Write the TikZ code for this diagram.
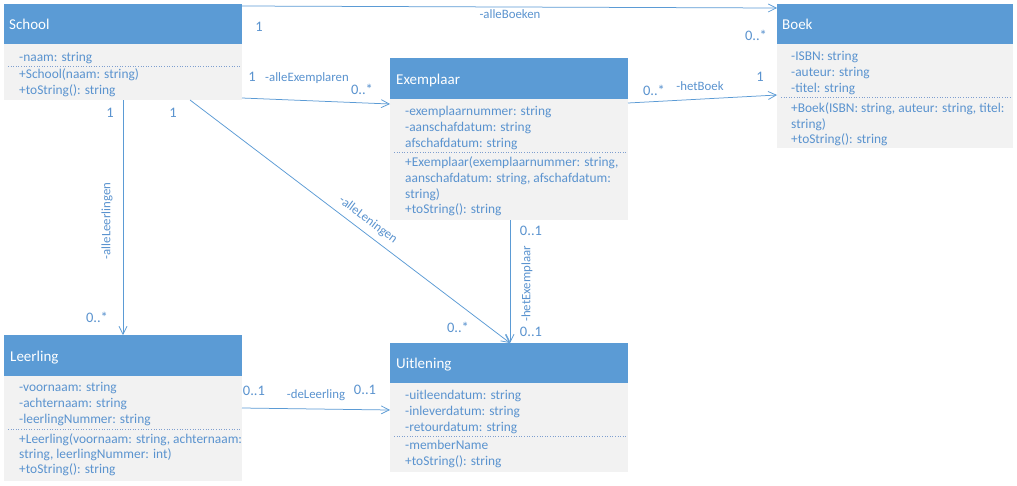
\documentclass[tikz,border=0pt]{standalone}
\usepackage{fontspec}
\setmainfont{Carlito}
\usetikzlibrary{arrows.meta}
\definecolor{hdrblue}{HTML}{5B9BD5}
\definecolor{bodygray}{HTML}{F2F2F2}
\definecolor{txtblue}{HTML}{5A93CF}
\definecolor{lineblue}{HTML}{5B9BD5}
\definecolor{sepcol}{HTML}{7F9FCF}
\begin{document}
\begin{tikzpicture}[x=1pt,y=-1pt,
  hdr/.style={fill=hdrblue,draw=none,inner sep=0pt,outer sep=0pt,anchor=north west},
  bodybox/.style={fill=bodygray,draw=none,inner sep=0pt,outer sep=0pt,anchor=north west},
  hdrtext/.style={anchor=base west,inner sep=0pt,text=white,font=\fontsize{15}{18}\selectfont},
  txt/.style={anchor=base west,inner sep=0pt,text=txtblue,font=\fontsize{13.4}{16}\selectfont},
  lbl/.style={inner sep=0pt,text=txtblue,font=\fontsize{12.8}{15}\selectfont},
  mult/.style={inner sep=0pt,text=txtblue,font=\fontsize{14.5}{17}\selectfont},
  sep/.style={draw=sepcol,dotted,line width=0.6pt},
  conn/.style={draw=lineblue,line width=0.75pt,-{Straight Barb[length=8pt,width=8pt,line width=0.75pt]}}
]
\useasboundingbox[fill=white] (0,0) rectangle (1017,485);

% School
\node[hdr,minimum width=238pt,minimum height=40pt] (schoolh) at (4,4) {};
\node[bodybox,minimum width=238pt,minimum height=56pt] (schoolb) at (4,44) {};
\node[hdrtext] (schoolt) at (9,29) {School};
\node[txt] (s1) at (19,61) {-naam: string};
\node[txt] (s2) at (19,78) {+School(naam: string)};
\node[txt] (s3) at (19,94) {+toString(): string};
\draw[sep] (8,66) -- (240,66);

% Boek
\node[hdr,minimum width=236pt,minimum height=40pt] (boekh) at (777,4) {};
\node[bodybox,minimum width=236pt,minimum height=104pt] (boekb) at (777,44) {};
\node[hdrtext] (boekt) at (782,29) {Boek};
\node[txt] (b1) at (791,60) {-ISBN: string};
\node[txt] (b2) at (791,76) {-auteur: string};
\node[txt] (b3) at (791,92) {-titel: string};
\node[txt] (b4) at (791,112) {+Boek(ISBN: string, auteur: string, titel:};
\node[txt] (b5) at (791,128) {string)};
\node[txt] (b6) at (791,143) {+toString(): string};
\draw[sep] (781,97) -- (1011,97);

% Exemplaar
\node[hdr,minimum width=238pt,minimum height=41pt] (exh) at (390,58) {};
\node[bodybox,minimum width=238pt,minimum height=121pt] (exb) at (390,99) {};
\node[hdrtext] (ext) at (396,84) {Exemplaar};
\node[txt] (e1) at (405,115) {-exemplaarnummer: string};
\node[txt] (e2) at (405,131) {-aanschafdatum: string};
\node[txt] (e3) at (405,147) {afschafdatum: string};
\node[txt] (e4) at (405,166) {+Exemplaar(exemplaarnummer: string,};
\node[txt] (e5) at (405,182) {aanschafdatum: string, afschafdatum:};
\node[txt] (e6) at (405,198) {string)};
\node[txt] (e7) at (405,213) {+toString(): string};
\draw[sep] (394,152) -- (626,152);

% Leerling
\node[hdr,minimum width=238pt,minimum height=41pt] (leerh) at (4,335) {};
\node[bodybox,minimum width=238pt,minimum height=105pt] (leerb) at (4,376) {};
\node[hdrtext] (leert) at (10,361) {Leerling};
\node[txt] (l1) at (19,391) {-voornaam: string};
\node[txt] (l2) at (19,407) {-achternaam: string};
\node[txt] (l3) at (19,423) {-leerlingNummer: string};
\node[txt] (l4) at (19,443) {+Leerling(voornaam: string, achternaam:};
\node[txt] (l5) at (19,458) {string, leerlingNummer: int)};
\node[txt] (l6) at (19,473) {+toString(): string};
\draw[sep] (8,429) -- (240,429);

% Uitlening
\node[hdr,minimum width=238pt,minimum height=40pt] (uith) at (390,343) {};
\node[bodybox,minimum width=238pt,minimum height=89pt] (uitb) at (390,383) {};
\node[hdrtext] (uitt) at (396,368) {Uitlening};
\node[txt] (u1) at (405,399) {-uitleendatum: string};
\node[txt] (u2) at (405,415) {-inleverdatum: string};
\node[txt] (u3) at (405,431) {-retourdatum: string};
\node[txt] (u4) at (405,449) {-memberName};
\node[txt] (u5) at (405,465) {+toString(): string};
\draw[sep] (394,436) -- (626,436);

% Connectors
\draw[conn] ([yshift=-2pt]schoolh.north east) -- ([yshift=-4pt]boekh.north west);
\draw[conn] ([yshift=2pt]schoolb.south east) -- ([yshift=-5pt]exb.north west);
\draw[conn] ([yshift=-4pt]exh.south east) -- ([yshift=-51pt]boekb.north west);
\draw[conn] ([xshift=119pt]schoolb.south west) -- ([xshift=119pt]leerh.north west);
\draw[conn] ([xshift=-52pt]schoolb.south east) -- ([xshift=120pt]uith.north west);
\draw[conn] ([xshift=120pt]exb.south west) -- ([xshift=120pt]uith.north west);
\draw[conn] ([yshift=-32pt]leerb.north east) -- ([yshift=-27pt]uitb.north west);

% Labels
\node[lbl] (lab1) at (510,14) {-alleBoeken};
\node[mult] (m1a) at (259,27) {1};
\node[mult] (m1b) at (756,35) {0..*};

\node[mult] (m2a) at (252,77) {1};
\node[lbl] (lab2) at (307,78) {-alleExemplaren};
\node[mult] (m2b) at (362,89) {0..*};

\node[mult] (m3a) at (654,90) {0..*};
\node[lbl] (lab3) at (700,86) {-hetBoek};
\node[mult] (m3b) at (760,77) {1};

\node[mult] (m4a) at (110,113) {1};
\node[lbl,rotate=90] (lab4) at (107,221) {-alleLeerlingen};
\node[mult] (m4b) at (97,317) {0..*};

\node[mult] (m5a) at (173,113) {1};
\node[lbl,rotate=-37] (lab5) at (368,220) {-alleLeningen};
\node[mult] (m5b) at (458,327) {0..*};

\node[mult] (m6a) at (531,231) {0..1};
\node[lbl,rotate=90] (lab6) at (527,284) {-hetExemplaar};
\node[mult] (m6b) at (531,332) {0..1};

\node[mult] (m7a) at (254,391) {0..1};
\node[lbl] (lab7) at (316,395) {-deLeerling};
\node[mult] (m7b) at (365,390) {0..1};
\end{tikzpicture}
\end{document}
